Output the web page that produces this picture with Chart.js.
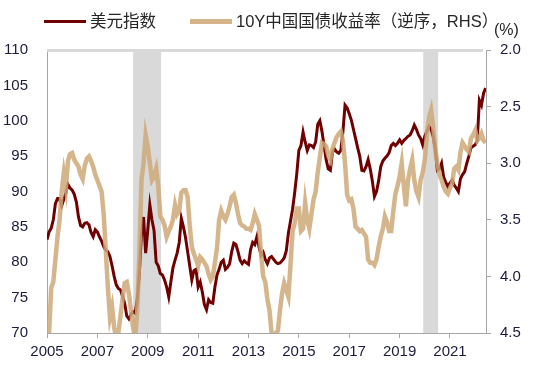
<!DOCTYPE html>
<html lang="zh">
<head>
<meta charset="UTF-8">
<title>美元指数与10Y中国国债收益率</title>
<style>
  body { margin: 0; background: #fff; }
  #wrap { position: relative; width: 537px; height: 368px; font-family: 'Liberation Sans', Arial, 'Noto Sans CJK SC', sans-serif; color: #262626; }
  canvas { position: absolute; left: 0; top: 0; }
  #legend { position: absolute; left: 44px; top: 12px; display: flex; align-items: center; font-size: 16.5px; line-height: 18px; }
  .item { display: flex; align-items: center; margin-right: 34px; white-space: nowrap; }
  .swatch { display: inline-block; width: 42px; margin-right: 4px; }
  #unit { position: absolute; left: 494px; top: 21px; font-size: 16px; line-height: 18px; }
</style>
</head>
<body>
<div id="wrap">
  <canvas id="myChart" width="537" height="368"></canvas>
  <div id="legend"></div>
  <div id="unit">(%)</div>
</div>

<script src="https://cdn.jsdelivr.net/npm/chart.js"></script>
<script>
// monthly data, first point = Jan 2005
const startYear = 2005;
const xMax = 2022.43;

const yearTicks = [2005, 2007, 2009, 2011, 2013, 2015, 2017, 2019, 2021];
const leftTicks = [70, 75, 80, 85, 90, 95, 100, 105, 110];
const rightTicks = [2.0, 2.5, 3.0, 3.5, 4.0, 4.5];

// grey bands (decimal years)
const shadedPeriods = [[2008.42, 2009.53], [2019.94, 2020.53]];

const seriesNames = ['美元指数', '10Y中国国债收益率（逆序，RHS）'];

// US dollar index
const dxy = [
  83.2, 84.3, 84.8, 86.0, 88.3, 89.0, 89.0, 88.0, 88.9, 89.8, 91.0, 90.5,   // 2005
  90.2, 89.6, 88.5, 86.4, 85.2, 85.0, 85.5, 85.6, 85.3, 84.2, 83.6, 84.6,   // 2006
  84.3, 83.6, 83.0, 82.2, 81.7, 81.5, 80.8, 79.5, 78.0, 76.8, 76.3, 76.1,   // 2007
  75.2, 74.2, 72.4, 72.0, 72.6, 73.0, 72.8, 74.7, 78.5, 84.0, 86.4, 81.3,   // 2008
  84.5, 88.1, 86.0, 84.5, 80.0, 79.5, 78.4, 78.2, 77.5, 76.5, 75.1, 77.2,   // 2009
  79.2, 80.3, 81.3, 82.8, 86.2, 85.0, 83.5, 81.5, 79.5, 77.5, 78.8, 79.0,   // 2010
  76.5, 77.2, 75.8, 74.0, 73.3, 74.7, 74.3, 74.2, 76.5, 78.2, 79.0, 80.0,   // 2011
  80.3, 79.0, 79.3, 79.8, 81.5, 82.7, 82.5, 81.5, 80.3, 79.8, 80.2, 79.9,   // 2012
  79.7, 81.8, 82.8, 82.5, 83.6, 82.2, 81.0, 81.4, 80.4, 79.8, 80.6, 80.8,   // 2013
  80.4, 80.0, 79.8, 79.9, 80.2, 80.6, 81.6, 84.1, 85.8, 87.5, 89.8, 92.5,   // 2014
  95.8, 96.5, 98.4, 97.0, 95.8, 96.6, 96.5, 96.2, 97.0, 99.5, 100.0, 98.5,  // 2015
  96.5, 94.5, 93.2, 93.0, 95.5, 96.0, 95.6, 95.4, 95.8, 98.5, 102.2, 101.8, // 2016
  101.0, 100.1, 98.8, 97.5, 96.2, 95.0, 93.0, 92.9, 93.5, 94.5, 93.2, 91.5, // 2017
  89.3, 90.0, 91.5, 93.5, 94.3, 94.7, 95.0, 95.5, 96.5, 96.8, 96.5, 96.8,   // 2018
  97.3, 96.8, 97.2, 97.5, 97.8, 98.0, 98.6, 99.4, 98.8, 98.0, 97.5, 96.6,   // 2019
  97.8, 98.5, 99.2, 98.8, 97.8, 96.0, 93.0, 93.2, 94.0, 92.0, 91.3, 90.7,   // 2020
  91.2, 91.6, 90.9, 90.5, 90.0, 91.8, 92.4, 92.8, 94.0, 95.0, 96.2, 96.4,   // 2021
  96.6, 97.2, 102.9, 102.2, 103.9, 104.6                                    // 2022
];

// China 10Y government bond yield, %
const cgb10y = [
  4.80, 4.50, 4.10, 4.05, 3.85, 3.65, 3.50, 3.25, 3.09, 3.22, 2.98, 2.92,   // 2005
  2.91, 2.97, 3.00, 3.03, 3.10, 3.14, 3.02, 2.96, 2.94, 2.98, 3.03, 3.10,   // 2006
  3.15, 3.20, 3.25, 3.45, 3.77, 4.10, 4.36, 4.27, 4.45, 4.55, 4.50, 4.35,   // 2007
  4.20, 4.06, 4.05, 4.15, 4.30, 4.45, 4.55, 4.30, 3.80, 3.15, 3.00, 2.75,   // 2008
  2.85, 3.00, 3.15, 3.12, 3.05, 3.20, 3.47, 3.50, 3.55, 3.65, 3.60, 3.56,   // 2009
  3.50, 3.37, 3.45, 3.42, 3.26, 3.24, 3.24, 3.30, 3.55, 3.74, 3.80, 3.85,   // 2010
  3.91, 3.83, 3.85, 3.88, 3.91, 3.98, 4.03, 4.00, 3.88, 3.75, 3.50, 3.42,   // 2011
  3.47, 3.50, 3.45, 3.38, 3.30, 3.28, 3.35, 3.45, 3.53, 3.55, 3.56, 3.58,   // 2012
  3.58, 3.59, 3.53, 3.45, 3.50, 3.55, 3.80, 4.00, 4.05, 4.20, 4.30, 4.50,   // 2013
  4.55, 4.50, 4.48, 4.30, 4.15, 4.06, 4.12, 4.18, 3.90, 3.60, 3.53, 3.40,   // 2014
  3.40, 3.60, 3.58, 3.35, 3.50, 3.58, 3.45, 3.32, 3.25, 3.08, 2.95, 2.82,   // 2015
  2.83, 2.85, 2.93, 2.97, 2.87, 2.82, 2.77, 2.74, 2.72, 2.80, 3.00, 3.28,   // 2016
  3.33, 3.32, 3.40, 3.56, 3.58, 3.60, 3.59, 3.62, 3.65, 3.85, 3.88, 3.88,   // 2017
  3.90, 3.85, 3.74, 3.65, 3.58, 3.47, 3.52, 3.60, 3.60, 3.42, 3.27, 3.20,   // 2018
  3.12, 3.00, 3.20, 3.38, 3.15, 3.05, 2.97, 3.15, 3.25, 3.30, 3.15, 3.08,   // 2019
  2.97, 2.75, 2.60, 2.53, 2.68, 2.88, 3.00, 3.10, 3.15, 3.21, 3.25, 3.27,   // 2020
  3.22, 3.18, 3.05, 3.03, 3.06, 2.90, 2.82, 2.85, 2.88, 2.90, 2.78, 2.75,   // 2021
  2.71, 2.80, 2.78, 2.74, 2.80, 2.82                                        // 2022
];

function toPoints(values) {
  return values.map((v, i) => ({ x: startYear + i / 12, y: v }));
}

const tickFont = { family: "'Liberation Sans', Arial, sans-serif", size: 15 };
const tickColor = '#1b1b3b';
const axisColor = '#A6A6A6';

// grey bands + light top border
const shadePlugin = {
  id: 'shade',
  beforeDatasetsDraw(chart) {
    const { ctx, chartArea: a, scales: { x } } = chart;
    ctx.save();
    ctx.fillStyle = '#D9D9D9';
    shadedPeriods.forEach(([s, e]) => {
      const x0 = x.getPixelForValue(s);
      const x1 = x.getPixelForValue(e);
      ctx.fillRect(x0, a.top, x1 - x0, a.bottom - a.top);
    });
    ctx.fillRect(a.left, a.top - 1, a.right - a.left - 3, 3);
    ctx.restore();
  }
};

// legend as html above the canvas
const htmlLegend = {
  id: 'htmlLegend',
  afterUpdate(chart) {
    const box = document.getElementById('legend');
    box.innerHTML = '';
    chart.data.datasets.forEach(ds => {
      const item = document.createElement('div');
      item.className = 'item';
      const sw = document.createElement('span');
      sw.className = 'swatch';
      sw.style.background = ds.backgroundColor;
      sw.style.height = ds.legendThickness + 'px';
      const txt = document.createElement('span');
      txt.textContent = ds.label;
      item.appendChild(sw);
      item.appendChild(txt);
      box.appendChild(item);
    });
  }
};

const data = {
  datasets: [{
    label: seriesNames[0],
    data: toPoints(dxy),
    borderColor: '#700000',
    backgroundColor: '#700000',
    legendThickness: 3,
    borderWidth: 3,
    pointRadius: 0,
    yAxisID: 'y',
    order: 1
  }, {
    label: seriesNames[1],
    data: toPoints(cgb10y),
    borderColor: 'rgba(206,168,120,0.85)',
    backgroundColor: '#D6B48A',
    legendThickness: 5,
    borderWidth: 4.5,
    pointRadius: 0,
    yAxisID: 'y2',
    order: 0
  }]
};

const config = {
  type: 'line',
  data: data,
  options: {
    responsive: false,
    animation: false,
    layout: { padding: { top: 50, left: 0, right: 0, bottom: 0 } },
    plugins: {
      legend: { display: false },
      tooltip: { enabled: false }
    },
    scales: {
      x: {
        type: 'linear',
        min: startYear,
        max: xMax,
        afterBuildTicks: s => { s.ticks = yearTicks.map(v => ({ value: v })); },
        afterFit: s => { s.height = 35; },
        grid: { drawOnChartArea: false, drawTicks: true, tickLength: 5, color: axisColor },
        border: { color: axisColor },
        ticks: { padding: 5, color: tickColor, font: tickFont, maxRotation: 0, autoSkip: false, callback: v => String(v) }
      },
      y: {
        position: 'left',
        min: 70,
        max: 110,
        afterBuildTicks: s => { s.ticks = leftTicks.map(v => ({ value: v })); },
        afterFit: s => { s.width = 47; },
        grid: { drawOnChartArea: false, drawTicks: false },
        border: { color: axisColor },
        ticks: { padding: 19, color: tickColor, font: tickFont }
      },
      y2: {
        position: 'right',
        min: 2.0,
        max: 4.5,
        reverse: true,
        afterBuildTicks: s => { s.ticks = rightTicks.map(v => ({ value: v })); },
        afterFit: s => { s.width = 51; },
        grid: { drawOnChartArea: false, drawTicks: true, tickLength: 5, color: axisColor },
        border: { color: axisColor },
        ticks: { padding: 9, color: tickColor, font: tickFont, callback: v => v.toFixed(1) }
      }
    }
  },
  plugins: [shadePlugin, htmlLegend]
};

const ctx = document.getElementById('myChart').getContext('2d');
new Chart(ctx, config);
</script>
</body>
</html>
